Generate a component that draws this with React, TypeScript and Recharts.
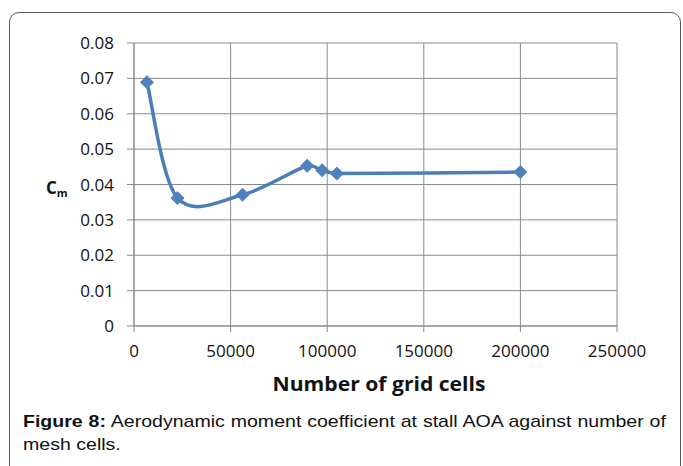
import React from "react";
import { LineChart, Line, XAxis, YAxis, CartesianGrid } from "recharts";

// values
const gridCells = [6700, 22500, 56200, 89600, 97400, 105000, 200000];
const cmValues = [0.0689, 0.0362, 0.0371, 0.0453, 0.044, 0.0431, 0.0435];
const xTicks = [0, 50000, 100000, 150000, 200000, 250000];
const yTicks = [0, 0.01, 0.02, 0.03, 0.04, 0.05, 0.06, 0.07, 0.08];

const data = gridCells.map((cells, i) => ({ cells, cm: cmValues[i] }));

const GRID = "#8a8a8a";
const BLUE = "#4a7ebb";
const TICK_FONT = "'Open Sans', sans-serif";

// Excel-like smoothed line: Catmull-Rom (1/6) tangents, clamped on short segments
function excelSmooth(context: any) {
  let pts: [number, number][] = [];
  const arm = (a: [number, number], b: [number, number], seg: number) => {
    let dx = (b[0] - a[0]) / 6;
    let dy = (b[1] - a[1]) / 6;
    const len = Math.hypot(dx, dy);
    const max = seg * 0.4;
    if (len > max && len > 0) {
      dx = (dx * max) / len;
      dy = (dy * max) / len;
    }
    return [dx, dy];
  };
  return {
    areaStart() {},
    areaEnd() {},
    lineStart() {
      pts = [];
    },
    lineEnd() {
      const n = pts.length;
      if (!n) return;
      context.moveTo(pts[0][0], pts[0][1]);
      for (let i = 0; i < n - 1; i++) {
        const p0 = pts[Math.max(0, i - 1)];
        const p1 = pts[i];
        const p2 = pts[i + 1];
        const p3 = pts[Math.min(n - 1, i + 2)];
        const seg = Math.hypot(p2[0] - p1[0], p2[1] - p1[1]);
        const t1 = arm(p0, p2, seg);
        const t2 = arm(p1, p3, seg);
        context.bezierCurveTo(p1[0] + t1[0], p1[1] + t1[1], p2[0] - t2[0], p2[1] - t2[1], p2[0], p2[1]);
      }
    },
    point(x: number, y: number) {
      pts.push([+x, +y]);
    },
  };
}

const Diamond = (props: any) => {
  const { cx, cy, index } = props;
  if (cx == null || cy == null) return null;
  const r = 7;
  return (
    <path
      key={`d-${index}`}
      d={`M${cx},${cy - r}L${cx + r},${cy}L${cx},${cy + r}L${cx - r},${cy}Z`}
      fill="#4f81bd"
    />
  );
};

const fmtY = (v: number) => (v === 0 ? "0" : v.toFixed(2));

export default function App() {
  return (
    <div style={{ position: "absolute", left: 0, top: 0, width: 683, height: 466, background: "#fff", overflow: "hidden" }}>
      <div
        style={{
          position: "absolute",
          left: 9,
          top: 12,
          width: 672,
          height: 470,
          border: "1px solid #5a5a5a",
          borderRadius: 10,
          boxSizing: "border-box",
        }}
      />
      <div style={{ position: "absolute", left: 0, top: 0 }}>
        <LineChart width={683} height={466} data={data} margin={{ top: 43, right: 66, bottom: 110, left: 74 }}>
          <CartesianGrid stroke={GRID} strokeWidth={1} />
          <XAxis
            type="number"
            dataKey="cells"
            domain={[0, 250000]}
            ticks={xTicks}
            interval={0}
            height={30}
            stroke={GRID}
            tickSize={6}
            tickMargin={13}
            tick={{ fill: "#111", fontSize: 17, fontFamily: TICK_FONT }}
            label={{
              content: () => (
                <text
                  x={379}
                  y={391}
                  textAnchor="middle"
                  fill="#111"
                  fontSize={19}
                  fontWeight="bold"
                  fontFamily={TICK_FONT}
                  textLength={213}
                  lengthAdjust="spacingAndGlyphs"
                >
                  Number of grid cells
                </text>
              ),
            }}
          />
          <YAxis
            type="number"
            domain={[0, 0.08]}
            ticks={yTicks}
            interval={0}
            width={60}
            stroke={GRID}
            tickSize={7}
            tickMargin={13}
            tickFormatter={fmtY}
            tick={{ fill: "#111", fontSize: 17, fontFamily: TICK_FONT }}
            label={{
              content: () => (
                <text x={46} y={194} fill="#111" fontFamily={TICK_FONT} fontWeight="bold">
                  <tspan fontSize={17}>C</tspan>
                  <tspan fontSize={11} dy={3}>m</tspan>
                </text>
              ),
            }}
          />
          <Line
            type={excelSmooth as any}
            dataKey="cm"
            stroke={BLUE}
            strokeWidth={3.5}
            dot={<Diamond />}
            activeDot={false}
            isAnimationActive={false}
          />
        </LineChart>
      </div>
      <div
        style={{
          position: "absolute",
          left: 23,
          top: 410,
          width: 559,
          transform: "scaleX(1.15)",
          transformOrigin: "left top",
          fontFamily: "'Liberation Sans', Arial, sans-serif",
          fontSize: 17,
          lineHeight: "23px",
          color: "#111",
        }}
      >
        <div style={{ textAlign: "justify", textAlignLast: "justify", whiteSpace: "nowrap" }}>
          <b>Figure 8:</b> Aerodynamic moment coefficient at stall AOA against number of
        </div>
        <div>mesh cells.</div>
      </div>
    </div>
  );
}
